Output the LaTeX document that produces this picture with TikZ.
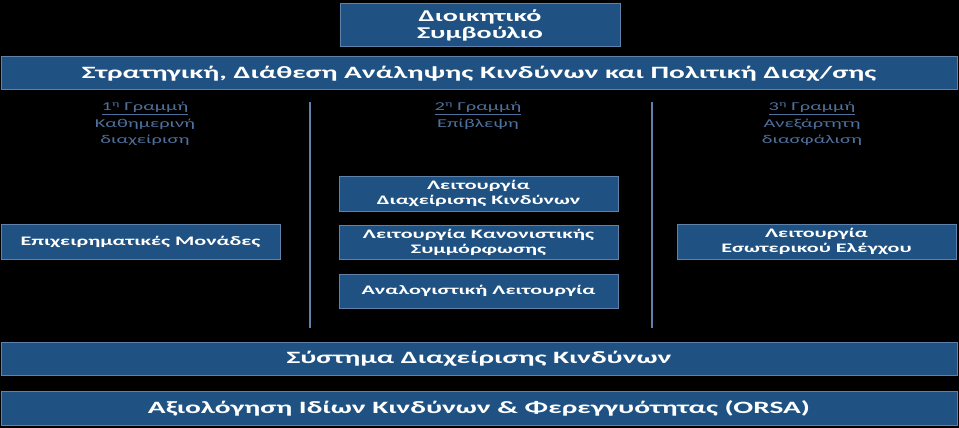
\documentclass[tikz,border=0pt]{standalone}
\usepackage{fontspec}
\setmainfont{Carlito}[FakeStretch=1.7]
\definecolor{boxfill}{RGB}{31,82,130}
\definecolor{boxline}{RGB}{95,130,170}
\definecolor{hdrtext}{RGB}{78,112,156}
\tikzset{
    box/.style={draw=boxline, fill=boxfill, line width=1pt, text=white, font=\bfseries, align=center, inner sep=0pt},
    small/.style={font=\bfseries\fontsize{13}{15}\selectfont},
    wide/.style={font=\bfseries\fontsize{17.3}{20}\selectfont},
    hdr/.style={text=hdrtext, font=\fontsize{12}{16.5}\selectfont, align=center},
    sep/.style={draw=boxline, line width=1.2pt}
}
\begin{document}
\begin{tikzpicture}[x=1pt, y=-1pt]
        \useasboundingbox[fill=black] (0, 0) rectangle (959, 428);

        \node[box, minimum width=280, minimum height=43, font=\bfseries\fontsize{16.5}{17}\selectfont] (board) at (480, 25.5) {Διοικητικό\\Συμβούλιο};
        \node[box, wide, minimum width=956, minimum height=33] (strategy) at (479, 73.5) {Στρατηγική, Διάθεση Ανάληψης Κινδύνων και Πολιτική Διαχ/σης};

        \node[hdr] (line1) at (145, 124) {\underline{1\textsuperscript{η} Γραμμή}\\Καθημερινή\\διαχείριση};
        \node[hdr] (line2) at (478, 116) {\underline{2\textsuperscript{η} Γραμμή}\\Επίβλεψη};
        \node[hdr] (line3) at (812, 124) {\underline{3\textsuperscript{η} Γραμμή}\\Ανεξάρτητη\\διασφάλιση};

        \coordinate (s1top) at (310, 102);
        \coordinate (s1bot) at (310, 328);
        \coordinate (s2top) at (652, 102);
        \coordinate (s2bot) at (652, 328);
        \draw[sep] (s1top) -- (s1bot);
        \draw[sep] (s2top) -- (s2bot);

        \node[box, small, minimum width=279, minimum height=35] (business) at (140.5, 242) {Επιχειρηματικές Μονάδες};
        \node[box, small, minimum width=279, minimum height=35] (riskfn) at (478.5, 193.5) {Λειτουργία\\Διαχείρισης Κινδύνων};
        \node[box, small, minimum width=279, minimum height=34] (compliance) at (478.5, 242) {Λειτουργία Κανονιστικής\\Συμμόρφωσης};
        \node[box, small, minimum width=279, minimum height=34] (actuarial) at (478.5, 291) {Αναλογιστική Λειτουργία};
        \node[box, small, minimum width=279, minimum height=35] (audit) at (816.5, 241.5) {Λειτουργία\\Εσωτερικού Ελέγχου};

        \node[box, wide, minimum width=956, minimum height=33] (rms) at (479, 358.5) {Σύστημα Διαχείρισης Κινδύνων};
        \node[box, wide, minimum width=956, minimum height=34] (orsa) at (479, 408) {Αξιολόγηση Ιδίων Κινδύνων \& Φερεγγυότητας (ORSA)};
    \end{tikzpicture}
\end{document}
